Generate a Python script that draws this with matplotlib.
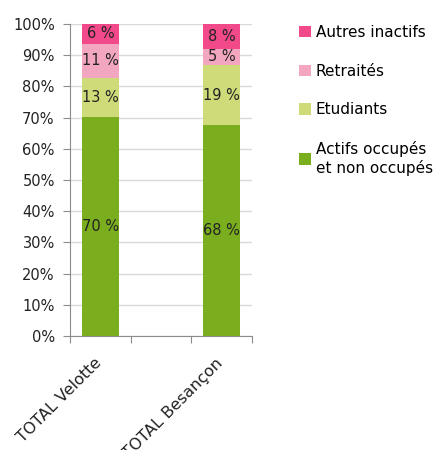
import matplotlib.pyplot as plt
import matplotlib.transforms as mtransforms
import numpy as np

# categories (middle one is an empty slot in the original chart)
categories = ["TOTAL Velotte", "", "TOTAL Besançon"]
series = ["Actifs occupés\net non occupés", "Etudiants", "Retraités", "Autres inactifs"]
actifs = [70.2, np.nan, 67.6]
etudiants = [12.6, np.nan, 19.2]
retraites = [10.9, np.nan, 5.3]
autres = [6.3, np.nan, 7.9]
colors = ["#7aae1f", "#cfdb78", "#f3a6c0", "#f2498b"]

plt.rcParams['font.family'] = ['DejaVu Sans']

fig = plt.figure(figsize=(4.46, 4.5), dpi=100)
ax = fig.add_axes([0.157, 0.253, 0.408, 0.694])

x = np.arange(len(categories))
bottom = np.zeros(len(categories))
handles = []
for name, vals, col in zip(series, [actifs, etudiants, retraites, autres], colors):
    v = np.nan_to_num(np.array(vals, dtype=float))
    b = ax.bar(x, v, 0.6, bottom=bottom, color=col, label=name, zorder=3)
    handles.append(b)
    for xi, vi, bi in zip(x, v, bottom):
        if vi > 0:
            ax.text(xi, bi + vi / 2, f"{round(vi):.0f} %", ha='center', va='center',
                    fontsize=10.5, color='#222222', zorder=4)
    bottom += v

ax.set_xlim(-0.5, 2.5)
ax.set_ylim(0, 100)
ax.set_yticks(np.arange(0, 101, 10))
ax.set_yticklabels([f"{t}%" for t in range(0, 101, 10)], fontsize=10.5, color='#222222')
ax.yaxis.grid(True, color='#d9d9d9', linewidth=1, zorder=0)
ax.set_xticks([-0.5, 0.5, 1.5, 2.5])
ax.set_xticklabels([])
ax.set_xticks(x, minor=True)
ax.set_xticklabels(categories, minor=True, rotation=45, ha='right',
                   rotation_mode='anchor', fontsize=11.5, color='#222222')
ax.tick_params(axis='x', which='minor', length=0, pad=14)
ax.tick_params(axis='x', which='major', length=5, color='#8c8c8c')
ax.tick_params(axis='y', length=5, color='#8c8c8c', pad=6)
# nudge category labels a bit to the left
shift = mtransforms.ScaledTranslation(-5 / 72, 0, fig.dpi_scale_trans)
for lbl in ax.get_xticklabels(minor=True):
    lbl.set_transform(lbl.get_transform() + shift)
for s in ['top', 'right']:
    ax.spines[s].set_visible(False)
for s in ['left', 'bottom']:
    ax.spines[s].set_color('#8c8c8c')

fig.legend(handles[::-1], [h.get_label() for h in handles[::-1]],
           loc='upper left', bbox_to_anchor=(0.64, 0.975), frameon=False,
           fontsize=11, handlelength=0.75, handleheight=0.75, handletextpad=0.35,
           labelspacing=1.55)

fig.savefig("out.png", dpi=100)
